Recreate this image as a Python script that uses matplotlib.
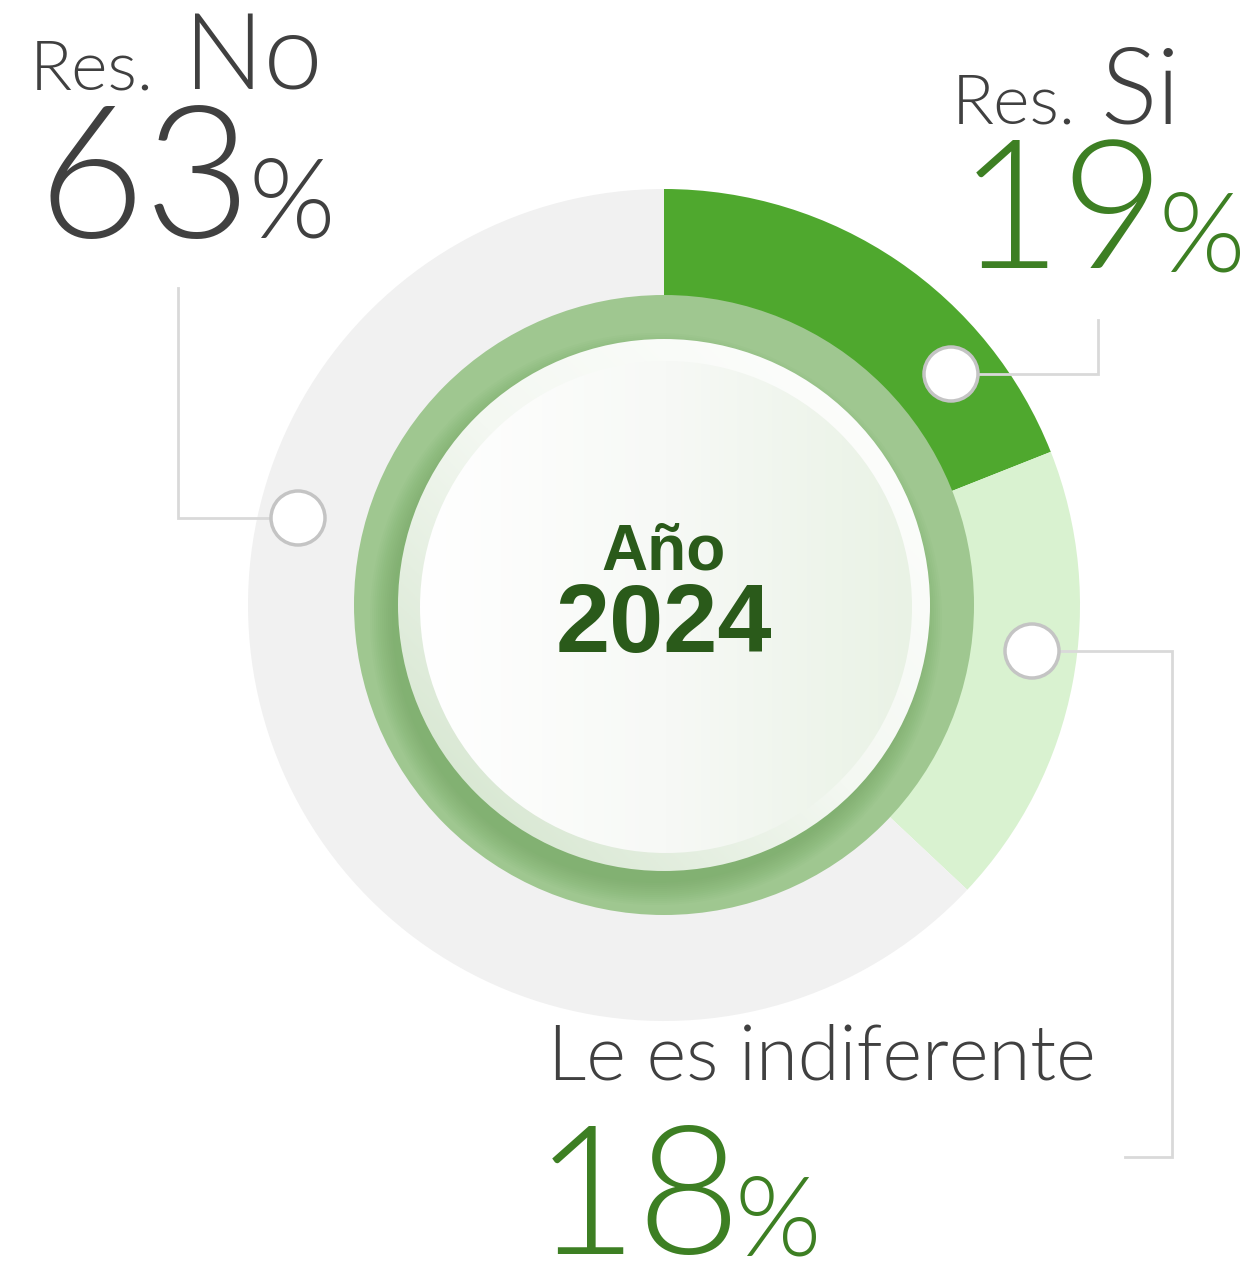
import numpy as np
import matplotlib
matplotlib.use("Agg")
import matplotlib.pyplot as plt
from matplotlib.patches import Circle
from matplotlib.colors import LinearSegmentedColormap

# ---- data ----
categories = ["Res. Si", "Le es indiferente", "Res. No"]
values = [19, 18, 63]
colors = ["#4fa82e", "#d9f2d0", "#f1f1f1"]
center_title = "Año"
center_year = "2024"

W, H = 1248, 1263
fig = plt.figure(figsize=(W / 100, H / 100), dpi=100)
ax = fig.add_axes([0, 0, 1, 1])

def Y(y):
    return H - y

CX, CY = 664, Y(605)
R = 416

ax.pie(values, colors=colors, startangle=90, counterclock=False, radius=R,
       center=(CX, CY), frame=True, wedgeprops=dict(linewidth=0))

# inner green ring
ax.add_patch(Circle((CX, CY), 310, color="#9fc790", lw=0, zorder=3))
# soft shadow inside ring (lower-left)
for i in range(12):
    ax.add_patch(Circle((CX - 8, CY - 14), 264 + i * 2.0, color="#5f9a4c",
                        alpha=0.04, lw=0, zorder=3.1))

# outer button disc (gradient lower-left greenish -> upper-right white)
disc1 = Circle((CX, CY), 266, color="none", lw=0, zorder=4)
ax.add_patch(disc1)
n = 256
gx, gy = np.meshgrid(np.linspace(0, 1, n), np.linspace(0, 1, n))
g1 = (gx + gy) / 2
cm1 = LinearSegmentedColormap.from_list("c1", ["#cfe2c8", "#f4f8f2", "#ffffff"])
im1 = ax.imshow(g1, cmap=cm1, extent=(CX - 266, CX + 266, CY - 266, CY + 266),
                origin="lower", zorder=4, interpolation="bilinear")
im1.set_clip_path(disc1)

# inner disc (white left -> light green right)
disc2 = Circle((CX + 2, CY - 2), 246, color="none", lw=0, zorder=5)
ax.add_patch(disc2)
cm2 = LinearSegmentedColormap.from_list("c2", ["#ffffff", "#f7f9f6", "#e9f2e5"])
im2 = ax.imshow(gx, cmap=cm2, extent=(CX - 246, CX + 250, CY - 250, CY + 246),
                origin="lower", zorder=5, interpolation="bilinear")
im2.set_clip_path(disc2)

ax.text(CX, Y(570), center_title, ha="center", va="baseline", fontsize=46,
        fontweight="bold", color="#2a5a1a", family="Liberation Sans", zorder=6)
ax.text(CX, Y(652), center_year, ha="center", va="baseline", fontsize=70,
        fontweight="bold", color="#2a5a1a", family="Liberation Sans", zorder=6)

# leader lines
lc = "#d9d9d9"
lw = 2
ax.plot([979, 1098, 1098], [Y(374), Y(374), Y(320)], color=lc, lw=lw, zorder=6,
        solid_joinstyle="miter")
ax.plot([270, 178, 178], [Y(518), Y(518), Y(288)], color=lc, lw=lw, zorder=6,
        solid_joinstyle="miter")
ax.plot([1060, 1172, 1172, 1125], [Y(651), Y(651), Y(1157), Y(1157)], color=lc,
        lw=lw, zorder=6, solid_joinstyle="miter")

# marker circles
for (mx, my) in [(951, 374), (298, 518), (1032, 651)]:
    ax.add_patch(Circle((mx, Y(my)), 27, fc="white", ec="#c4c4c4", lw=2.5, zorder=7))

# labels
FONT = ["Lato", "DejaVu Sans"]
grey = "#404040"
green = "#3d7f23"
tw = 300

ax.text(30, Y(89), "Res.", fontsize=50, color=grey, family=FONT, weight=tw,
        ha="left", va="baseline")
ax.text(184, Y(89), "No", fontsize=76, color=grey, family=FONT, weight=tw,
        ha="left", va="baseline")
ax.text(38, Y(238), "63", fontsize=133, color=grey, family=FONT, weight=tw,
        ha="left", va="baseline")
ax.text(249, Y(238), "%", fontsize=80, color=grey, family=FONT, weight=tw,
        ha="left", va="baseline")

ax.text(952, Y(123), "Res.", fontsize=50, color=grey, family=FONT, weight=tw,
        ha="left", va="baseline")
ax.text(1100, Y(123), "Si", fontsize=76, color=grey, family=FONT, weight=tw,
        ha="left", va="baseline")
ax.text(958, Y(268), "19", fontsize=129, color=green, family=FONT, weight=tw,
        ha="left", va="baseline")
ax.text(1158, Y(271), "%", fontsize=80, color=green, family=FONT, weight=tw,
        ha="left", va="baseline")

ax.text(548, Y(1080), "Le es indiferente", fontsize=54.5, color=grey, family=FONT,
        weight=tw, ha="left", va="baseline")
ax.text(534, Y(1254), "18", fontsize=129, color=green, family=FONT, weight=tw,
        ha="left", va="baseline")
ax.text(734, Y(1255), "%", fontsize=80, color=green, family=FONT, weight=tw,
        ha="left", va="baseline")

ax.set_xlim(0, W)
ax.set_ylim(0, H)
ax.set_aspect("auto")
ax.axis("off")
fig.savefig("out.png", dpi=100, facecolor="white")
